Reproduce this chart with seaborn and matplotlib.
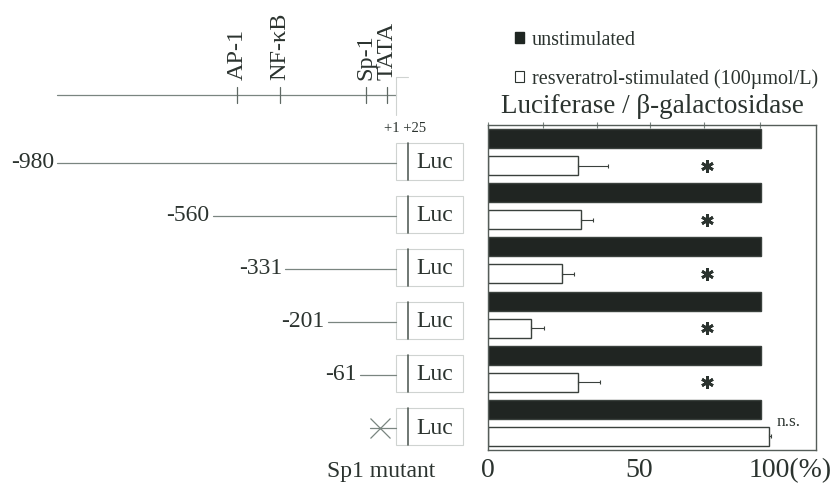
import numpy as np
import pandas as pd
import seaborn as sns
import matplotlib.pyplot as plt
from matplotlib.patches import Rectangle

# promoter constructs (rows, top to bottom)
constructs = ["-980", "-560", "-331", "-201", "-61", "Sp1 mutant"]
unstim = [90.5, 90.5, 90.5, 90.5, 90.5, 90.5]
resv = [29.7, 30.7, 24.4, 14.2, 29.7, 93.0]
resv_err = [9.9, 3.9, 4.0, 4.3, 7.3, 0.8]
signif = ["*", "*", "*", "*", "*", "n.s."]

# schematic start of each fragment as drawn (bp)
draw_start = [-980, -530, -320, -197, -104]
# sites on the full-length promoter (schematic bp)
sites = ["AP-1", "NF-κB", "Sp-1", "TATA"]
site_pos = [-460, -335, -87, -26]

conditions = ["unstimulated", "resveratrol-stimulated (100µmol/L)"]
top_ticks = [0, 18.2, 36.1, 53.6, 71.5, 90]

sns.set_theme(style="white")
plt.rcParams["font.family"] = ["Liberation Serif", "DejaVu Serif"]
ink = "#2b332f"
dark = "#1f2622"
faint = "#cfd3d1"

fig = plt.figure(figsize=(8.32, 4.88), dpi=100)

# ---- left: promoter diagram (x in bp, y in rows) ----
dia = fig.add_axes([0, 0, 1, 1])
dia.set_xlim(-1144.5, 1260)
dia.set_ylim(6.132, -3.075)
dia.axis("off")
dia.patch.set_alpha(0)

bp_px = 2.89  # bp per pixel
top_y = -1.283
dia.plot([-980, 0], [top_y, top_y], color="#7a8580", lw=0.9)
for name, pos in zip(sites, site_pos):
    dia.plot([pos, pos], [top_y - 0.15, top_y + 0.15], color="#5f6964", lw=0.9)
    dia.text(pos, -1.56, name, rotation=90, ha="center", va="bottom",
             fontsize=17.5, color=ink)
dia.plot([0, 0], [-1.62, -0.9], color=faint, lw=0.8)
dia.plot([0, 35], [-1.62, -1.62], color=faint, lw=0.8)
dia.text(25, -0.66, "+1 +25", ha="center", va="center", fontsize=10.5, color=ink)

for i, name in enumerate(constructs):
    if i < len(draw_start):
        dia.plot([draw_start[i], 0], [i, i], color="#7a8580", lw=0.9)
        dia.text(draw_start[i] - 3 * bp_px, i, name, ha="right", va="center",
                 fontsize=17, color=ink)
    else:
        dia.plot([-75, 0], [i, i], color="#7a8580", lw=0.9)
        dia.plot([-46], [i], marker="x", ms=15, mew=0.9, color="#7a8580")
        dia.text(-43, 5.83, name, ha="center", va="center", fontsize=17, color=ink)
    dia.add_patch(Rectangle((0, i - 0.38), 194, 0.70, fill=False,
                            edgecolor=faint, lw=0.8))
    dia.plot([35, 35], [i - 0.38, i + 0.32], color="#56605b", lw=1.2)
    dia.text(112, i, "Luc", ha="center", va="center", fontsize=17, color=ink)

# ---- right: luciferase bars ----
ax = fig.add_axes([488 / 832, 1 - 450 / 488, (816 - 488) / 832, (450 - 125) / 488])
df = pd.DataFrame({
    "construct": constructs * 2,
    "condition": [conditions[0]] * 6 + [conditions[1]] * 6,
    "value": unstim + resv,
})
sns.barplot(data=df, y="construct", x="value", hue="condition", orient="h",
            palette=[dark, "white"], width=1.0, gap=0.3, errorbar=None,
            edgecolor="#3a413d", linewidth=1, legend=False, ax=ax)

ycen = [p.get_y() + p.get_height() / 2 for p in ax.containers[1]]
ax.errorbar(resv, ycen, xerr=[np.zeros(len(resv)), resv_err], fmt="none",
            ecolor="#3a413d", elinewidth=0.8, capsize=1.5, capthick=0.8)
for y, s in zip(ycen, signif):
    if s == "*":
        ax.plot(72.5, y, marker=(6, 2, 0), ms=9, mew=2, color=ink)
    else:
        ax.text(99.5, y - 0.26, s, ha="center", va="center", fontsize=12.5, color=ink)

ax.set_xlim(0, 108.6)
ax.set_ylim(5.5, -0.5)
ax.set_yticks([])
ax.set_ylabel("")
ax.set_xlabel("")
ax.set_xticks([0, 50, 100])
ax.set_xticklabels(["0", "50", "100(%)"], fontsize=20, color=ink)
ax.tick_params(axis="x", length=0, pad=6)
for sp in ax.spines.values():
    sp.set_visible(True)
    sp.set_color("#555d59")
    sp.set_linewidth(1)
sec = ax.secondary_xaxis("top")
sec.set_xticks(top_ticks)
sec.set_xticklabels([])
sec.tick_params(direction="inout", length=4, width=0.8, color="#7a8580")
sec.spines["top"].set_visible(False)

fig.text(652 / 832, 1 - 107 / 488, "Luciferase / β-galactosidase",
         ha="center", va="center", fontsize=19.5, color=ink)

handles = [Rectangle((0, 0), 1, 1, facecolor=dark, edgecolor=dark),
           Rectangle((0, 0), 1, 1, facecolor="white", edgecolor=ink, lw=0.8)]
fig.legend(handles, conditions, loc="upper left",
           bbox_to_anchor=(515 / 832, 1 - 31 / 488), frameon=False,
           fontsize=14.5, handlelength=0.45, handleheight=0.45,
           handletextpad=0.4, labelspacing=0.95, borderpad=0,
           borderaxespad=0, labelcolor=ink)

fig.savefig("out.png", dpi=100)
